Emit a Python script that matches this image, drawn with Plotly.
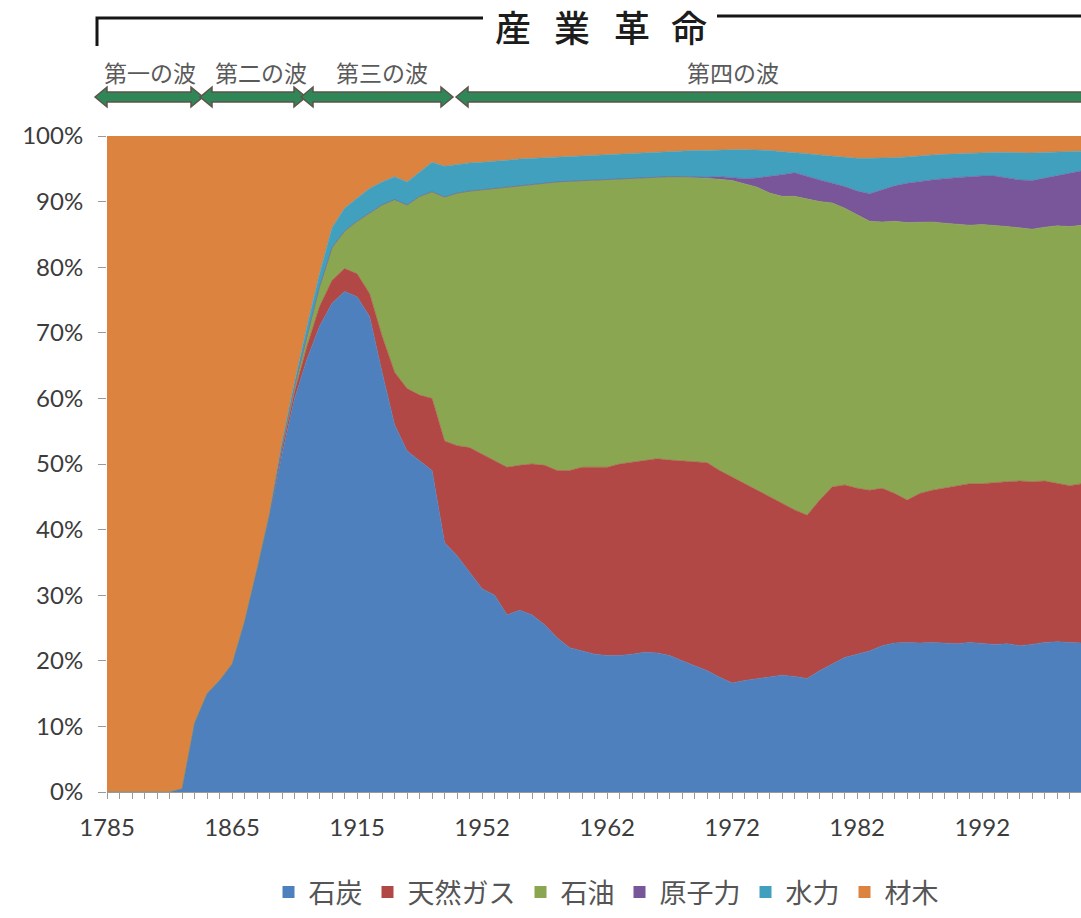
import plotly.graph_objects as go

# ---------------- data (shares in %) ----------------
YEARS = [1785, 1793, 1801, 1809, 1817, 1825, 1833, 1841, 1849, 1857,
         1865, 1870, 1875, 1880, 1885, 1890, 1895, 1900, 1905, 1910,
         1915, 1920, 1925, 1930, 1935, 1940, 1945, 1949, 1950, 1951,
         1952] + list(range(1953, 2001))

TICK_YEARS = [1785, 1865, 1915, 1952, 1962, 1972, 1982, 1992]

COAL = [0, 0, 0, 0, 0, 0, 0.5, 10.5, 15, 17,
        19.5, 26, 34, 42, 51.5, 60, 66, 71, 74.5, 76.3,
        75.5, 72.5, 64, 56, 52, 50.5, 49, 38, 36, 33.5,
        31, 30, 27, 27.7, 27, 25.5, 23.5, 22, 21.5, 21,
        20.8, 20.8, 21, 21.3, 21.2, 20.8, 20, 19.3, 18.5, 17.5,
        16.6, 17, 17.3, 17.5, 17.8, 17.6, 17.3, 18.5, 19.5, 20.5,
        21, 21.5, 22.3, 22.7, 22.8, 22.7, 22.8, 22.7, 22.6, 22.8,
        22.7, 22.5, 22.6, 22.3, 22.5, 22.8, 22.9, 22.8, 22.7]

GAS = [0, 0, 0, 0, 0, 0, 0, 0, 0, 0,
       0, 0, 0, 0.3, 0.8, 1, 2, 3, 3.5, 3.5,
       3.5, 3.5, 5.5, 8, 9.5, 10, 11, 15.5, 16.8, 19,
       20.5, 20.5, 22.5, 22.1, 23, 24.3, 25.5, 27, 28, 28.5,
       28.7, 29.2, 29.3, 29.2, 29.6, 29.8, 30.5, 31.1, 31.7, 31.5,
       31.4, 30, 28.7, 27.5, 26.2, 25.4, 24.9, 26, 27, 26.3,
       25.3, 24.5, 24, 22.8, 21.7, 22.8, 23.2, 23.6, 24, 24.2,
       24.3, 24.7, 24.7, 25.1, 24.8, 24.6, 24.1, 23.9, 24.3]

OIL = [0, 0, 0, 0, 0, 0, 0, 0, 0, 0,
       0, 0, 0, 0, 0.5, 0.8, 1.5, 3, 5, 5.7,
       8, 12.2, 20, 26.3, 28, 30.3, 31.5, 37.2, 38.5, 39.1,
       40.3, 41.5, 42.8, 42.7, 42.7, 43.1, 44, 44.1, 43.7, 43.8,
       43.9, 43.5, 43.3, 43.2, 43, 43.2, 43.3, 43.3, 43.4, 44.4,
       45.2, 45.7, 46.2, 46.3, 46.8, 47.8, 48.2, 45.5, 43.3, 42.2,
       41.7, 41, 40.6, 41.5, 42.3, 41.4, 40.9, 40.4, 39.9, 39.4,
       39.5, 39.2, 38.9, 38.6, 38.5, 38.7, 39.3, 39.5, 39.4]

NUCLEAR = [0] * 48 + [0.1, 0.4,
           0.5, 0.8, 1.4, 2.5, 3.3, 3.6, 3.4, 3.3, 3, 3.3,
           3.6, 4.2, 4.9, 5.4, 6, 6.2, 6.4, 6.8, 7.2, 7.4,
           7.4, 7.5, 7.4, 7.3, 7.4, 7.5, 7.7, 8.2, 8.3]

HYDRO = [0, 0, 0, 0, 0, 0, 0, 0, 0, 0,
         0, 0, 0, 0.2, 0.5, 0.7, 1.5, 2, 3, 3.5,
         3.5, 3.8, 3.5, 3.5, 3.5, 3.7, 4.5, 4.7, 4.4, 4.3,
         4.2, 4.1, 4, 4, 3.9, 3.8, 3.8, 3.8, 3.8, 3.8,
         3.8, 3.8, 3.8, 3.8, 3.8, 3.8, 3.9, 4.1, 4.1, 4.1,
         4.2, 4.4, 4.3, 4, 3.5, 3.1, 3.5, 3.8, 4.1, 4.4,
         5, 5.4, 4.8, 4.3, 4, 3.9, 3.8, 3.7, 3.6, 3.6,
         3.5, 3.6, 3.9, 4.1, 4.2, 3.9, 3.6, 3.2, 3]

WOOD = [100, 100, 100, 100, 100, 100, 99.5, 89.5, 85, 83,
        80.5, 74, 66, 57.5, 46.7, 37.5, 29, 21, 14, 11,
        9.5, 8, 7, 6.2, 7, 5.5, 4, 4.6, 4.3, 4.1,
        4, 3.9, 3.7, 3.5, 3.4, 3.3, 3.2, 3.1, 3, 2.9,
        2.8, 2.7, 2.6, 2.5, 2.4, 2.4, 2.3, 2.2, 2.2, 2.1,
        2.1, 2.1, 2.1, 2.2, 2.4, 2.5, 2.7, 2.9, 3.1, 3.3,
        3.4, 3.4, 3.4, 3.3, 3.2, 3, 2.9, 2.8, 2.7, 2.6,
        2.6, 2.5, 2.5, 2.6, 2.6, 2.5, 2.4, 2.4, 2.3]

SERIES_NAMES = ["石炭", "天然ガス", "石油", "原子力", "水力", "材木"]
SERIES_VALUES = [COAL, GAS, OIL, NUCLEAR, HYDRO, WOOD]
SERIES_COLORS = ["#4e80bd", "#b14845", "#8ba650", "#785699", "#42a0bf", "#dc843f"]

WAVES = ["第一の波", "第二の波", "第三の波", "第四の波"]
HEADER = "産業革命"

# ---------------- figure ----------------
W, H = 1081, 918
ML, MR, MT, MB = 107, 0, 136, 126
PW, PH = W - ML - MR, H - MT - MB


def px(x):
    return (x - ML) / PW


def py(y):
    return (H - MB - y) / PH


idx = list(range(len(YEARS)))
fig = go.Figure()
for name, vals, col in zip(SERIES_NAMES, SERIES_VALUES, SERIES_COLORS):
    fig.add_trace(go.Scatter(
        x=idx, y=vals, name=name, stackgroup="one", mode="lines",
        line=dict(width=0.6, color=col), fillcolor=col,
        showlegend=False, hovertemplate=name + " %{y}%<extra></extra>"))
# legend entries (square swatches)
for name, col in zip(SERIES_NAMES, SERIES_COLORS):
    fig.add_trace(go.Scatter(
        x=[None], y=[None], mode="markers", name=name,
        marker=dict(symbol="square", size=12, color=col)))

tickvals = [i for i, y in enumerate(YEARS) if y in TICK_YEARS]
ticktext = [str(YEARS[i]) for i in tickvals]

num_font = dict(family="Lato, 'Noto Sans', sans-serif", size=24, color="#3c3c3c")
jp = "'Noto Sans CJK JP', sans-serif"

fig.update_layout(
    width=W, height=H, autosize=False,
    margin=dict(l=ML, r=MR, t=MT, b=MB, pad=0, autoexpand=False),
    paper_bgcolor="white", plot_bgcolor="white",
    showlegend=True,
    legend=dict(orientation="h", xref="container", yref="container",
                x=606 / W, xanchor="center",
                y=1 / H, yanchor="bottom", traceorder="normal",
                font=dict(family=jp, size=27, color="#555555"),
                itemwidth=30, bgcolor="rgba(0,0,0,0)"),
    xaxis=dict(range=[0, 77.9], tickmode="array", tickvals=tickvals,
               ticktext=ticktext, ticks="outside", ticklen=6,
               tickcolor="#9a9a9a", showgrid=False, zeroline=False,
               showline=True, linecolor="#9a9a9a", linewidth=1,
               tickfont=num_font, ticklabelstandoff=8,
               minor=dict(tickmode="linear", tick0=0, dtick=1,
                          ticks="outside", ticklen=6, tickcolor="#9a9a9a",
                          showgrid=False)),
    yaxis=dict(range=[0, 100], tickmode="array",
               tickvals=list(range(0, 101, 10)),
               ticktext=[f"{v}%" for v in range(0, 101, 10)],
               ticks="outside", ticklen=8, tickcolor="#9a9a9a",
               showgrid=False, zeroline=False, showline=False,
               tickfont=num_font, ticklabelstandoff=10),
)

# ---- header: bracket with 産業革命 ----
line_col = "#151515"
fig.add_shape(type="path", xref="paper", yref="paper",
              path=f"M{px(97)},{py(46)} L{px(97)},{py(18)} L{px(483)},{py(18)}",
              line=dict(color=line_col, width=3))
fig.add_shape(type="line", xref="paper", yref="paper",
              x0=px(717), y0=py(16), x1=px(1081), y1=py(16),
              line=dict(color=line_col, width=3))
for ch, cx in zip(HEADER, [513, 572, 632, 689]):
    fig.add_annotation(text=ch, xref="paper", yref="paper", x=px(cx), y=py(26),
                       xanchor="center", yanchor="middle", showarrow=False,
                       font=dict(family=jp, size=36, color="#1c1c1c", weight=500))

# ---- waves: labels + double arrows ----
wave_centers = [150, 261, 382, 733]
for txt, cx in zip(WAVES, wave_centers):
    fig.add_annotation(text=txt, xref="paper", yref="paper", x=px(cx), y=py(72),
                       xanchor="center", yanchor="middle", showarrow=False,
                       font=dict(family=jp, size=23, color="#5a5a5a"))

arrow_spans = [(95, 203), (200, 306), (301, 453), (456, 1130)]
yc, bh, hh, hl = 97, 5, 10, 12
for xl, xr in arrow_spans:
    pts = [(xl, yc), (xl + hl, yc - hh), (xl + hl, yc - bh), (xr - hl, yc - bh),
           (xr - hl, yc - hh), (xr, yc), (xr - hl, yc + hh), (xr - hl, yc + bh),
           (xl + hl, yc + bh), (xl + hl, yc + hh)]
    path = "M" + " L".join(f"{px(a)},{py(b)}" for a, b in pts) + " Z"
    fig.add_shape(type="path", xref="paper", yref="paper", path=path,
                  fillcolor="#2f8657", line=dict(color="#5e534a", width=1.5))

fig.write_html("out.html", config={"displayModeBar": False},
               post_script="document.body.style.margin='0';")
